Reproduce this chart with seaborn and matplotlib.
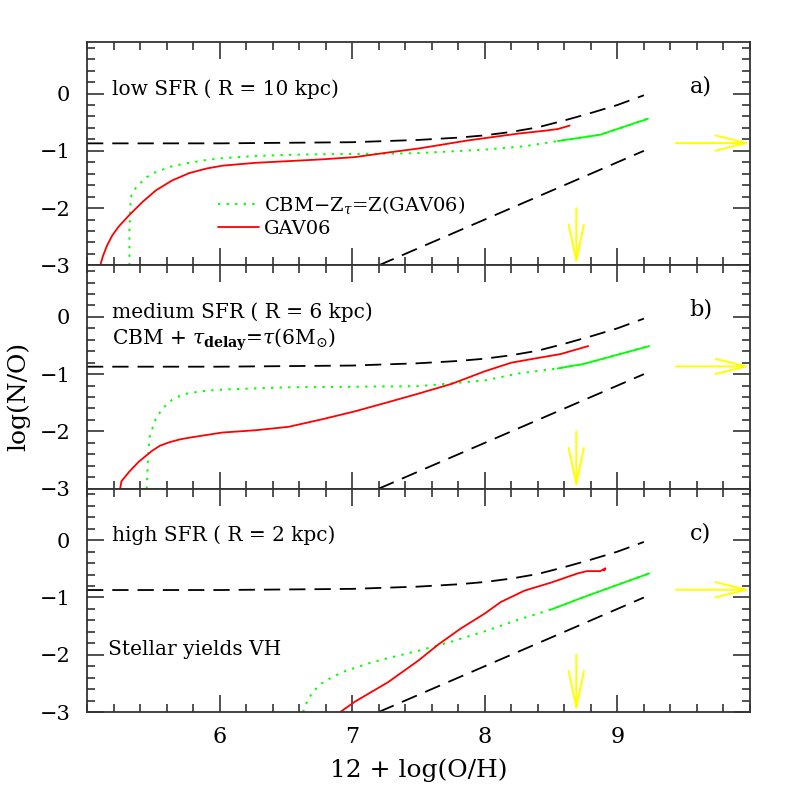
import numpy as np
import pandas as pd
import matplotlib
matplotlib.use("Agg")
import matplotlib.pyplot as plt
import seaborn as sns
from matplotlib.ticker import MultipleLocator
from matplotlib.lines import Line2D

# ---------------- data ----------------
# reference dashed curves (same in every panel)
upper_x = [5.0, 6.0, 7.0, 7.5, 7.8, 8.0, 8.2, 8.4, 8.6, 8.8, 9.0, 9.2]
upper_y = [-0.87, -0.87, -0.85, -0.81, -0.77, -0.73, -0.67, -0.59, -0.47, -0.34, -0.20, -0.03]
lower_x = [7.2, 9.2]
lower_y = [-3.0, -1.0]

# panel a: low SFR
ga_x = [5.32, 5.32, 5.33, 5.35, 5.39, 5.45, 5.52, 5.64, 5.77, 5.90, 6.02, 6.27, 6.52, 6.77,
        7.27, 7.50, 8.00, 8.30, 8.55, 8.87, 9.23]
ga_y = [-3.0, -2.40, -1.81, -1.70, -1.59, -1.46, -1.37, -1.27, -1.21, -1.16, -1.13, -1.09, -1.07, -1.06,
        -1.05, -1.04, -0.98, -0.92, -0.83, -0.72, -0.44]
ra_x = [5.10, 5.12, 5.15, 5.19, 5.24, 5.32, 5.42, 5.52, 5.64, 5.77, 5.90, 6.02, 6.27, 6.52, 6.77, 7.02,
        7.27, 7.50, 7.87, 8.25, 8.45, 8.55, 8.64]
ra_y = [-3.0, -2.84, -2.66, -2.48, -2.32, -2.12, -1.89, -1.69, -1.52, -1.39, -1.31, -1.26, -1.21, -1.18, -1.15, -1.11,
        -1.03, -0.96, -0.82, -0.70, -0.65, -0.62, -0.56]

# panel b: medium SFR
gb_x = [5.45, 5.46, 5.47, 5.50, 5.52, 5.57, 5.64, 5.70, 5.77, 5.90, 6.02, 6.50, 7.00, 7.50,
        7.75, 8.00, 8.25, 8.55, 8.75, 9.24]
gb_y = [-3.0, -2.50, -2.12, -1.90, -1.77, -1.60, -1.45, -1.38, -1.33, -1.29, -1.27, -1.23, -1.22, -1.21,
        -1.16, -1.11, -0.99, -0.90, -0.82, -0.51]
rb_x = [5.25, 5.26, 5.32, 5.39, 5.49, 5.55, 5.62, 5.70, 5.77, 6.02, 6.27, 6.52, 6.77, 7.02, 7.27,
        7.50, 7.75, 8.00, 8.20, 8.37, 8.57, 8.78]
rb_y = [-3.0, -2.87, -2.70, -2.53, -2.34, -2.25, -2.19, -2.14, -2.11, -2.02, -1.98, -1.92, -1.79, -1.65, -1.49,
        -1.34, -1.17, -0.95, -0.80, -0.73, -0.65, -0.51]

# panel c: high SFR
gc_x = [6.63, 6.64, 6.67, 6.71, 6.77, 6.85, 6.93, 7.02, 7.15, 7.27, 7.50, 7.75, 8.00, 8.25,
        8.50, 8.75, 9.24]
gc_y = [-3.0, -2.92, -2.77, -2.63, -2.50, -2.39, -2.30, -2.23, -2.13, -2.06, -1.93, -1.77, -1.59, -1.39,
        -1.21, -0.99, -0.58]
rc_x = [6.91, 7.02, 7.27, 7.50, 7.65, 7.82, 8.00, 8.12, 8.30, 8.50, 8.70, 8.77, 8.87, 8.91, 8.90]
rc_y = [-3.0, -2.82, -2.48, -2.10, -1.82, -1.54, -1.28, -1.08, -0.88, -0.74, -0.58, -0.54, -0.54, -0.49, -0.53]

green_solid_from = 8.5          # green model drawn dotted below, solid above
solar_OH = 8.69                 # vertical arrow position
solar_NO = -0.865               # horizontal arrow level
varrow_top = -2.0
harrow_start = 9.44

panel_titles = ["low SFR ( R = 10 kpc)", "medium SFR ( R = 6 kpc)", "high SFR ( R = 2 kpc)"]
panel_tags = ["a)", "b)", "c)"]
legend_labels = ["CBM\u2212Z$_{\\tau}$=Z(GAV06)", "GAV06"]
xticks = [6, 7, 8, 9]
yticks = [0, -1, -2, -3]
ytick_labels = ["0", "\u22121", "\u22122", "\u22123"]
xlim = (5.0, 10.0)
ylim = (-3.0, 0.9)

panels = [(ga_x, ga_y, ra_x, ra_y), (gb_x, gb_y, rb_x, rb_y), (gc_x, gc_y, rc_x, rc_y)]

# ---------------- style ----------------
sns.set_style("ticks")
plt.rcParams["font.family"] = ["DejaVu Serif"]
plt.rcParams["mathtext.fontset"] = "dejavuserif"
plt.rcParams["text.color"] = "black"
plt.rcParams["xtick.labelcolor"] = "black"
plt.rcParams["ytick.labelcolor"] = "black"

GREEN = "#00ff00"
RED = "#ff0000"
YELLOW = "#ffff00"
AXC = "#333333"

fig = plt.figure(figsize=(7.97, 7.97), dpi=100)
axes = fig.subplots(3, 1, sharex=True)
fig.subplots_adjust(left=87/797, right=750/797, bottom=1-712/797, top=1-42/797, hspace=0)

dash = (0, (9, 5))
dot = (0, (1.2, 3.2))

for i, ax in enumerate(axes):
    gx, gy, rx, ry = panels[i]
    sns.lineplot(x=upper_x, y=upper_y, ax=ax, color="black", lw=1.3, linestyle=dash,
                 sort=False, estimator=None)
    sns.lineplot(x=lower_x, y=lower_y, ax=ax, color="black", lw=1.3, linestyle=dash,
                 sort=False, estimator=None)
    gdf = pd.DataFrame({"x": gx, "y": gy})
    sns.lineplot(data=gdf, x="x", y="y", ax=ax, color=GREEN, lw=1.4, linestyle=dot,
                 sort=False, estimator=None)
    gsol = gdf[gdf.x >= green_solid_from - 0.05]
    sns.lineplot(data=gsol, x="x", y="y", ax=ax, color=GREEN, lw=1.3, linestyle="-",
                 sort=False, estimator=None)
    sns.lineplot(x=rx, y=ry, ax=ax, color=RED, lw=1.3, linestyle="-",
                 sort=False, estimator=None)

    # solar arrows
    ax.annotate("", xy=(xlim[1], solar_NO), xytext=(harrow_start, solar_NO),
                arrowprops=dict(arrowstyle="->,head_length=2.2,head_width=0.55",
                                mutation_scale=10, color=YELLOW, lw=1.4,
                                shrinkA=0, shrinkB=0))
    ax.annotate("", xy=(solar_OH, ylim[0]), xytext=(solar_OH, varrow_top),
                arrowprops=dict(arrowstyle="->,head_length=2.6,head_width=0.55",
                                mutation_scale=10, color=YELLOW, lw=1.4,
                                shrinkA=0, shrinkB=0))

    ax.set_xlim(*xlim)
    ax.set_ylim(*ylim)
    ax.xaxis.set_major_locator(MultipleLocator(1))
    ax.xaxis.set_minor_locator(MultipleLocator(0.2))
    ax.set_yticks(yticks)
    ax.set_yticklabels(ytick_labels)
    ax.yaxis.set_minor_locator(MultipleLocator(0.2))
    ax.tick_params(which="both", direction="in", top=True, right=True,
                   color=AXC, width=1.2)
    ax.tick_params(which="major", length=12.5)
    ax.tick_params(which="minor", length=6)
    ax.tick_params(axis="y", labelsize=15, pad=12, labelcolor="black")
    ax.tick_params(axis="x", labelsize=16, pad=10, labelcolor="black")
    for s in ax.spines.values():
        s.set_color(AXC)
        s.set_linewidth(1.3)
    ax.set_xlabel("")
    ax.set_ylabel("")

    ax.text(0.038, 0.79, panel_titles[i], transform=ax.transAxes,
            fontsize=14.5, ha="left", va="center", color="black")
    ax.text(0.909, 0.80, panel_tags[i], transform=ax.transAxes,
            fontsize=16, ha="left", va="center", color="black")

axes[2].set_xticks(xticks)
axes[2].set_xticklabels([str(t) for t in xticks])
axes[2].xaxis.set_minor_locator(MultipleLocator(0.2))

axes[1].text(0.038, 0.669, "CBM + $\\tau_{\\mathbf{delay}}$=$\\tau$(6M$_{\\odot}$)",
             transform=axes[1].transAxes, fontsize=14.5, ha="left", va="center", color="black")
axes[2].text(0.031, 0.282, "Stellar yields VH", transform=axes[2].transAxes,
             fontsize=14.5, ha="left", va="center", color="black")

handles = [Line2D([], [], color=GREEN, lw=1.4, linestyle=dot),
           Line2D([], [], color=RED, lw=1.3)]
leg = axes[0].legend(handles, legend_labels, loc="upper left", bbox_to_anchor=(0.198, 0.32),
                     frameon=False, fontsize=14, handlelength=2.1, handletextpad=0.25,
                     labelspacing=0.2, borderpad=0, borderaxespad=0)
for t in leg.get_texts():
    t.set_color("black")

fig.text(0.5 * (87 + 750) / 797, 1 - 770/797, "12 + log(O/H)", ha="center", va="center",
         fontsize=18, color="black")
fig.text(18/797, 1 - 396/797, "log(N/O)", ha="center", va="center", rotation=90,
         fontsize=18, color="black")

fig.savefig("out.png", dpi=100)
